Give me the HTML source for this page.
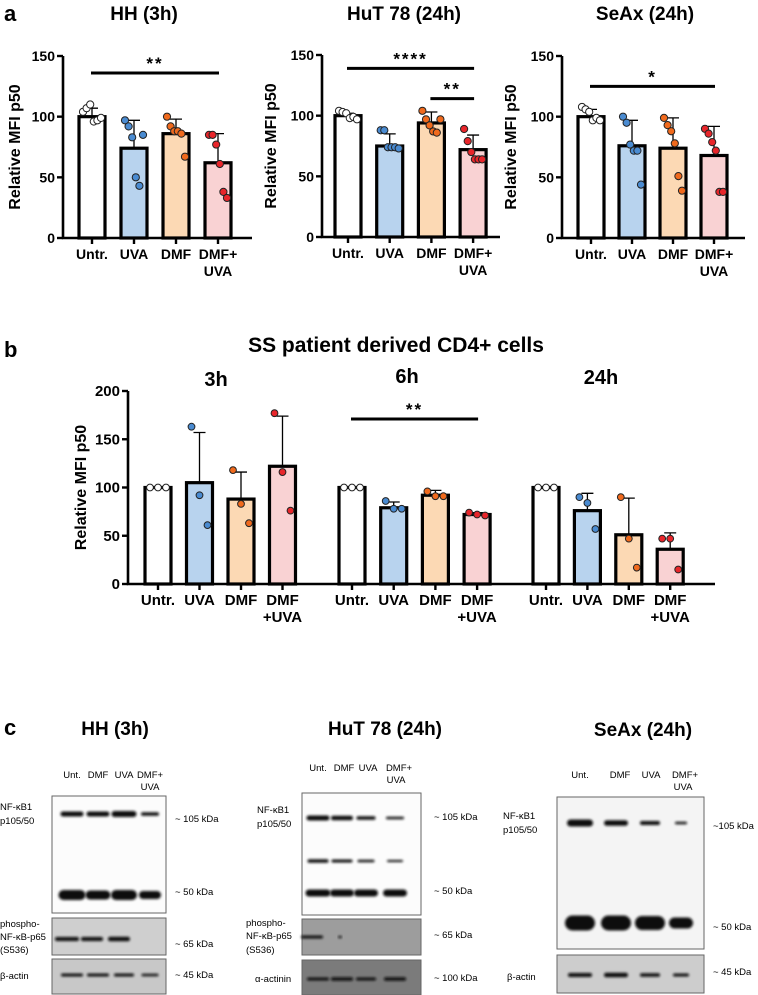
<!DOCTYPE html>
<html><head><meta charset="utf-8"><style>
html,body{margin:0;padding:0;background:#fff;}
svg{display:block;font-family:"Liberation Sans",Arial,sans-serif;}
</style></head><body>
<svg id="fig" width="758" height="995" viewBox="0 0 758 995" xmlns="http://www.w3.org/2000/svg">
<defs>
<filter id="blur1" x="-20%" y="-200%" width="140%" height="500%"><feGaussianBlur stdDeviation="1.2"/></filter>
</defs>
<g id="panelA"></g>
<g id="panelB"></g>
<g id="panelC"></g>
</svg>
<script>
// ---------- data ----------
const catsA = ["Untr.", "UVA", "DMF", "DMF+"];
const cats2A = ["", "", "", "UVA"];
const hhMeans = [100, 74, 86, 62];
const hhErr = [107, 97, 98, 86];
const hhPts = [[104,107,110,96,97,99],[97,92,83,50,43,85],[100,92,88,88,86,67],[85,85,77,61,38,33]];
const hutMeans = [100, 75, 94, 72];
const hutErr = [102, 85, 103, 84];
const hutPts = [[104,103,102,98,99,97],[88,88,74,74,74,73],[104,97,92,87,86,97],[89,79,70,64,64,64]];
const seaxMeans = [100, 76, 74, 68];
const seaxErr = [106, 97, 99, 92];
const seaxPts = [[108,106,104,97,99,97],[100,95,77,72,72,44],[99,93,88,78,51,39],[90,86,79,72,38,38]];
const ticksA = [0, 50, 100, 150];
const catsB = ["Untr.", "UVA", "DMF", "DMF"];
const cats2B = ["", "", "", "+UVA"];
const b3Means = [100, 105, 88, 122];
const b3Err = [100, 157, 116, 174];
const b3Pts = [[100,100,100],[163,92,61],[118,83,63],[177,116,76]];
const b6Means = [100, 79, 92, 72];
const b6Err = [100, 85, 97, 74];
const b6Pts = [[100,100,100],[86,78,78],[96,91,91],[74,72,71]];
const b24Means = [100, 76, 51, 36];
const b24Err = [100, 94, 89, 53];
const b24Pts = [[100,100,100],[90,84,57],[90,47,17],[47,47,15]];
const ticksB = [0, 50, 100, 150, 200];
const fills = ["#ffffff", "#b8d3ee", "#fcd9b4", "#f9d2d3"];
const dots = ["#ffffff", "#4a8bd1", "#f06a1d", "#e8262b"];

const NS = "http://www.w3.org/2000/svg";
function mk(parent, tag, attrs, text) {
  const e = document.createElementNS(NS, tag);
  for (const k in attrs) e.setAttribute(k, attrs[k]);
  if (text !== undefined) e.textContent = text;
  parent.appendChild(e);
  return e;
}

function barChart(g, o) {
  const yS = v => o.y0 - v * o.scale;
  const xS = i => o.x0c + i * o.step;
  o.means.forEach((m, i) => {
    const cx = xS(i);
    const top = o.err[i];
    const eb = mk(g, "path", {d:`M${cx},${yS(m)}V${yS(top)}M${cx-6},${yS(top)}H${cx+6}`, stroke:"#000", "stroke-width":1.3, fill:"none"});
    
    
    const r = mk(g, "rect", {x:cx-o.bw/2, y:yS(m), width:o.bw, height:o.y0-yS(m), fill:fills[i], stroke:"#000", "stroke-width":3.2});
    
    
    const pts = o.pts[i], n = pts.length;
    pts.forEach((p, j) => {
      const dx = (j - (n-1)/2) * o.jit;
      const c = mk(g, "circle", {cx:cx+dx, cy:yS(p), r:o.pr, fill:dots[i], stroke:"#222", "stroke-width":1});
      
      
    });
  });
  mk(g, "path", {d:`M${o.ax},${yS(o.ticks.length ? o.ticks[o.ticks.length-1] : 0)}V${o.y0}H${o.xEnd}`, stroke:"#000", "stroke-width":2.6, fill:"none"});
  o.ticks.forEach(t => {
    mk(g, "line", {x1:o.ax-6, x2:o.ax, y1:yS(t), y2:yS(t), stroke:"#000", "stroke-width":2.4});
    const tl = mk(g, "text", {x:o.ax-8, y:yS(t)+5, "text-anchor":"end", "font-size":o.fs, "font-weight":"bold"}, t);
    
    
  });
  o.means.forEach((m, i) => {
    mk(g, "line", {x1:xS(i), x2:xS(i), y1:o.y0, y2:o.y0+6, stroke:"#000", "stroke-width":2.4});
    const l = mk(g, "text", {x:xS(i), y:o.y0+21, "text-anchor":"middle", "font-size":o.fs, "font-weight":"bold"}, o.cats[i]);
    
    
    if (o.cats2[i]) mk(g, "text", {x:xS(i), y:o.y0+38, "text-anchor":"middle", "font-size":o.fs, "font-weight":"bold"}, o.cats2[i]);
  });
  if (o.ylab) {
    const yl = mk(g, "text", {transform:`translate(${o.ylx},${(o.y0+yS(o.ticks[o.ticks.length-1]))/2}) rotate(-90)`, "text-anchor":"middle", "font-size":o.yfs, "font-weight":"bold"}, "Relative MFI p50");
    
    
  }
  (o.sig || []).forEach(s => {
    mk(g, "line", {x1:xS(s.a)-1, x2:xS(s.b)+1, y1:yS(s.v), y2:yS(s.v), stroke:"#000", "stroke-width":3});
    const st = mk(g, "text", {x:(xS(s.a)+xS(s.b))/2, y:yS(s.v)-4, "text-anchor":"middle", "font-size":17, "font-weight":"bold", "letter-spacing":"2"}, s.t);
    
    
  });
}
const names = ["untr","uva","dmf","dmf-uva"];
function text(g, x, y, s, size, bold, anchor, name) {
  const t = mk(g, "text", {x:x, y:y, "font-size":size, "font-weight":bold?"bold":"normal", "text-anchor":anchor||"start"}, s);
  
  
  return t;
}

// ---------- panel a ----------
const A = document.getElementById("panelA");
text(A, 4, 21, "a", 22, true, "start", "panel-label-a");
text(A, 144, 20, "HH (3h)", 19, true, "middle", "chart-title-hh");
text(A, 404, 20, "HuT 78 (24h)", 19, true, "middle", "chart-title-hut78");
text(A, 645, 20, "SeAx (24h)", 19, true, "middle", "chart-title-seax");
const aScale = (238 - 56) / 150;
const gHH = mk(A, "g", {});  
barChart(gHH, {y0:238, scale:aScale, ax:63, x0c:92, step:42, bw:26, xEnd:252, means:hhMeans, err:hhErr, pts:hhPts, cats:catsA, cats2:cats2A, ticks:ticksA, fs:14, yfs:16, ylab:true, ylx:20, jit:3.6, pr:3.6, names:names, sig:[{a:0,b:3,v:136,t:"**"}]});
const gHut = mk(A, "g", {});  
barChart(gHut, {y0:237, scale:aScale, ax:322, x0c:348, step:41.7, bw:26, xEnd:500, means:hutMeans, err:hutErr, pts:hutPts, cats:catsA, cats2:cats2A, ticks:ticksA, fs:14, yfs:16, ylab:true, ylx:276, jit:3.6, pr:3.6, names:names, sig:[{a:0,b:3,v:139,t:"****"},{a:2,b:3,v:114,t:"**"}]});
const gSe = mk(A, "g", {});  
barChart(gSe, {y0:238, scale:aScale, ax:562, x0c:591, step:41, bw:26, xEnd:745, means:seaxMeans, err:seaxErr, pts:seaxPts, cats:catsA, cats2:cats2A, ticks:ticksA, fs:14, yfs:16, ylab:true, ylx:516, jit:3.6, pr:3.6, names:names, sig:[{a:0,b:3,v:125,t:"*"}]});

// ---------- panel b ----------
const B = document.getElementById("panelB");
text(B, 4, 357, "b", 22, true, "start", "panel-label-b");
text(B, 396, 352, "SS patient derived CD4+ cells", 21, true, "middle", "panel-b-title");
text(B, 216, 386, "3h", 20, true, "middle", "group-title-3h");
text(B, 407, 383, "6h", 20, true, "middle", "group-title-6h");
text(B, 601, 384, "24h", 20, true, "middle", "group-title-24h");
const bScale = (584 - 391) / 200;
const gB = mk(B, "g", {});  
barChart(gB, {y0:584, scale:bScale, ax:128, x0c:158, step:41.5, bw:26, xEnd:715, means:b3Means, err:b3Err, pts:b3Pts, cats:catsB, cats2:cats2B, ticks:ticksB, fs:15, yfs:16, ylab:true, ylx:86, jit:8, pr:3.4, names:names});
const g6 = mk(B, "g", {});  
barChart(g6, {y0:584, scale:bScale, ax:-100, x0c:352, step:41.7, bw:26, xEnd:-100, means:b6Means, err:b6Err, pts:b6Pts, cats:catsB, cats2:cats2B, ticks:[], fs:15, ylab:false, jit:8, pr:3.4, names:names, sig:[{a:0,b:3,v:171,t:"**"}]});
const g24 = mk(B, "g", {});  
barChart(g24, {y0:584, scale:bScale, ax:-100, x0c:546, step:41.4, bw:26, xEnd:-100, means:b24Means, err:b24Err, pts:b24Pts, cats:catsB, cats2:cats2B, ticks:[], fs:15, ylab:false, jit:8, pr:3.4, names:names});

// ---------- panel c (western blots) ----------
const C = document.getElementById("panelC");
text(C, 4, 735, "c", 22, true, "start", "panel-label-c");
text(C, 115, 735, "HH (3h)", 19, true, "middle", "blot-title-hh");
text(C, 385, 735, "HuT 78 (24h)", 19, true, "middle", "blot-title-hut78");
text(C, 643, 736, "SeAx (24h)", 19, true, "middle", "blot-title-seax");
function box(x, y, w, h, fill, name) {
  const r = mk(C, "rect", {x:x, y:y, width:w, height:h, fill:fill, stroke:"#666", "stroke-width":1});
  
  
}
function bands(xs, y, ws, hs, name) {
  xs.forEach((x, i) => {
    if (hs[i] <= 0) return;
    const e = mk(C, "rect", {x:x-ws[i]/2, y:y-hs[i]/2, width:ws[i], height:hs[i], rx:hs[i]/2, fill:"#111", filter:"url(#blur1)"});
    
    
  });
}
function small(x, y, s, anchor, name) { text(C, x, y, s, 9.5, false, anchor||"start", name); }

// HH blot
const hhL = [72, 98, 124, 150];
small(72, 778, "Unt.", "middle", "lane-label"); small(98, 778, "DMF", "middle", "lane-label"); small(124, 778, "UVA", "middle", "lane-label");
small(150, 778, "DMF+", "middle", "lane-label"); small(150, 790, "UVA", "middle", "lane-label");
box(52, 796, 114, 117, "#fcfcfc", "blot-hh-nfkb1");
bands(hhL, 814, [23,23,25,18], [5,5,6,3.5], "band-105");
bands(hhL, 895, [27,25,26,22], [10,9,10,8], "band-50");
box(52, 918, 114, 37, "#cfcfcf", "blot-hh-p65");
bands([67,92,119,150], 939, [24,22,22,0], [4,4,4.5,0], "band-p65");
box(52, 959, 114, 35, "#c8c8c8", "blot-hh-actin");
bands(hhL, 975, [22,22,20,17], [3,3,3,2.5], "band-actin");
small(0, 810, "NF-κB1", "start", "row-label"); small(0, 824, "p105/50", "start", "row-label");
small(0, 927, "phospho-", "start", "row-label"); small(0, 940, "NF-κB-p65", "start", "row-label"); small(0, 953, "(S536)", "start", "row-label");
small(0, 979, "β-actin", "start", "row-label");
small(175, 822, "~ 105 kDa", "start", "mw-label"); small(175, 895, "~ 50 kDa", "start", "mw-label");
small(175, 947, "~ 65 kDa", "start", "mw-label"); small(175, 978, "~ 45 kDa", "start", "mw-label");

// HuT blot
const huL = [318, 342, 366, 395];
small(318, 771, "Unt.", "middle", "lane-label"); small(344, 771, "DMF", "middle", "lane-label"); small(368, 771, "UVA", "middle", "lane-label");
small(399, 771, "DMF+", "middle", "lane-label"); small(396, 783, "UVA", "middle", "lane-label");
box(302, 793, 119, 122, "#fcfcfc", "blot-hut-nfkb1");
bands(huL, 818, [23,22,19,18], [5,4.5,3.5,2.5], "band-105");
bands(huL, 861, [21,21,17,16], [3.5,3,2.5,2], "band-mid");
bands(huL, 893, [25,24,24,24], [7,7,7,7], "band-50");
box(302, 919, 119, 36, "#9d9d9d", "blot-hut-p65");
bands([312, 340, 0, 0], 937, [22, 4, 0, 0], [3, 2, 0, 0], "band-p65");
box(302, 960, 119, 35, "#7b7b7b", "blot-hut-actinin");
bands(huL, 979, [22,22,20,22], [3,3.5,3,3.5], "band-actinin");
small(257, 813, "NF-κB1", "start", "row-label"); small(257, 827, "p105/50", "start", "row-label");
small(246, 926, "phospho-", "start", "row-label"); small(246, 939, "NF-κB-p65", "start", "row-label"); small(246, 953, "(S536)", "start", "row-label");
small(255, 982, "α-actinin", "start", "row-label");
small(434, 820, "~ 105 kDa", "start", "mw-label"); small(434, 894, "~ 50 kDa", "start", "mw-label");
small(434, 938, "~ 65 kDa", "start", "mw-label"); small(434, 981, "~ 100 kDa", "start", "mw-label");

// SeAx blot
const seL = [580, 616, 650, 681];
small(580, 778, "Unt.", "middle", "lane-label"); small(620, 778, "DMF", "middle", "lane-label"); small(651, 778, "UVA", "middle", "lane-label");
small(685, 778, "DMF+", "middle", "lane-label"); small(683, 790, "UVA", "middle", "lane-label");
box(557, 797, 147, 152, "#f4f4f4", "blot-seax-nfkb1");
bands(seL, 823, [26,24,20,12], [7,5.5,4,2.5], "band-105");
bands(seL, 923, [30,30,30,24], [15,15,14,11], "band-50");
box(557, 955, 147, 38, "#cdcdcd", "blot-seax-actin");
bands(seL, 975, [24,24,20,16], [4,4.5,3.5,3], "band-actin");
small(503, 819, "NF-κB1", "start", "row-label"); small(503, 833, "p105/50", "start", "row-label");
small(507, 980, "β-actin", "start", "row-label");
small(713, 829, "~105 kDa", "start", "mw-label"); small(713, 930, "~ 50 kDa", "start", "mw-label");
small(713, 975, "~ 45 kDa", "start", "mw-label");
</script>
</body></html>
